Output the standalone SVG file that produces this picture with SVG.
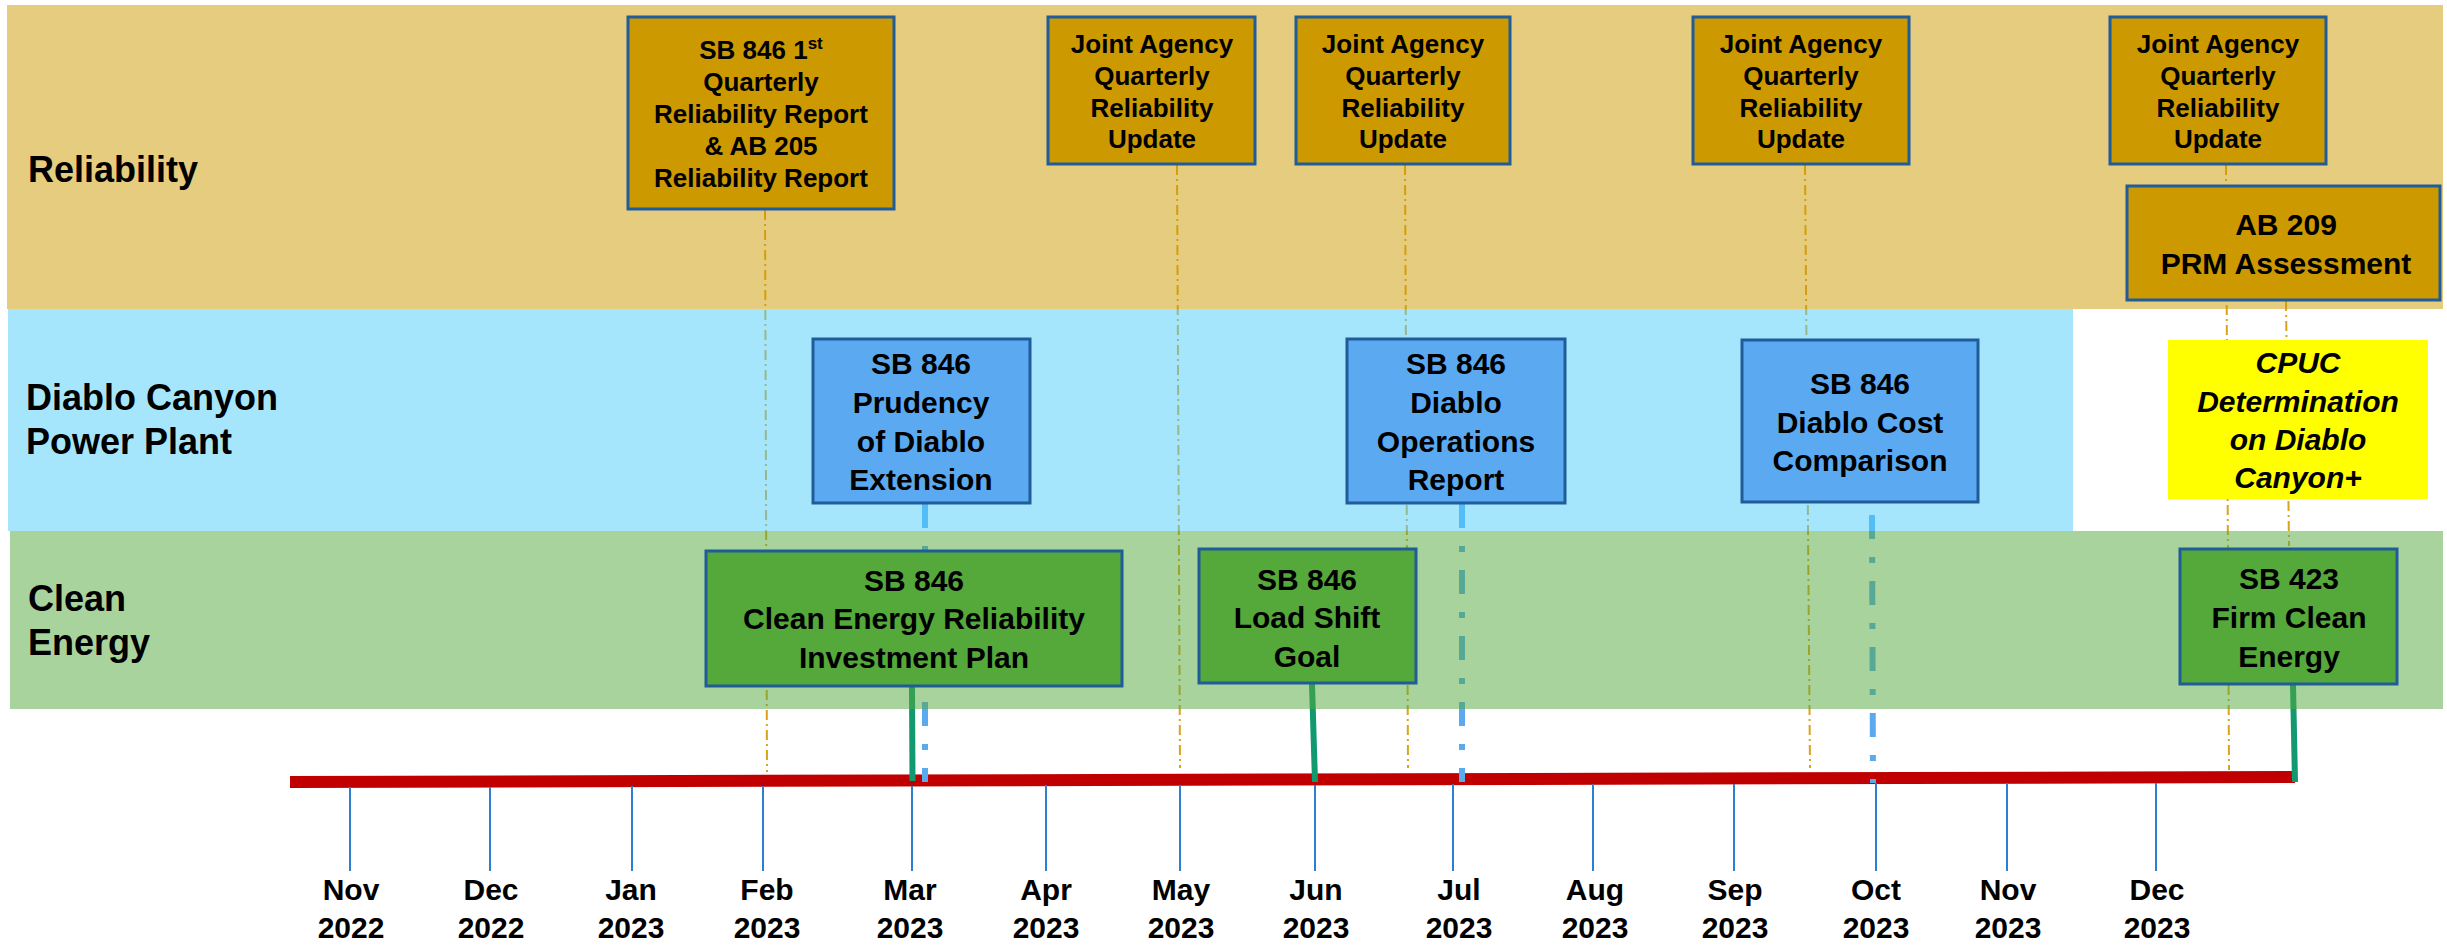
<svg xmlns="http://www.w3.org/2000/svg" width="2447" height="945" viewBox="0 0 2447 945">
<defs>
<style>
text{font-family:"Liberation Sans",Arial,sans-serif;font-weight:bold;fill:#000;}
.lane{font-size:36px;}
.r{font-size:26px;text-anchor:middle;}
.b{font-size:30px;text-anchor:middle;}
.i{font-size:30px;text-anchor:middle;font-style:italic;}
.m{font-size:30px;text-anchor:middle;}
.boxR{fill:#CC9900;stroke:#1F5C99;stroke-width:3;}
.boxB{fill:#5BAAF1;stroke:#1F5C99;stroke-width:3;}
.boxG{fill:#55A83A;stroke:#1F5C99;stroke-width:3;}
.gold{stroke:#DBA31A;stroke-width:2;stroke-dasharray:10 4 2 4;fill:none;}
.blue{stroke:#5BAAF0;stroke-width:6;stroke-dasharray:24 18 6 18;fill:none;}
.grn{stroke:#13996F;stroke-width:6;fill:none;}
.tick{stroke:#2F7FD0;stroke-width:2;}
</style>
</defs>
<rect width="2447" height="945" fill="#FFFFFF"/>

<g id="timeline">
<line x1="290" y1="782" x2="2295" y2="777" stroke="#C00000" stroke-width="12"/>
<g class="tick">
<line x1="350" y1="787" x2="350" y2="871"/>
<line x1="490" y1="787" x2="490" y2="871"/>
<line x1="632" y1="786" x2="632" y2="871"/>
<line x1="763" y1="786" x2="763" y2="871"/>
<line x1="912" y1="786" x2="912" y2="871"/>
<line x1="1046" y1="785" x2="1046" y2="871"/>
<line x1="1180" y1="785" x2="1180" y2="871"/>
<line x1="1315" y1="785" x2="1315" y2="871"/>
<line x1="1453" y1="784" x2="1453" y2="871"/>
<line x1="1593" y1="784" x2="1593" y2="871"/>
<line x1="1734" y1="784" x2="1734" y2="871"/>
<line x1="1876" y1="783" x2="1876" y2="871"/>
<line x1="2007" y1="783" x2="2007" y2="871"/>
<line x1="2156" y1="783" x2="2156" y2="871"/>
</g>
<g class="months">
<text class="m" x="351" y="900">Nov</text><text class="m" x="351" y="938">2022</text>
<text class="m" x="491" y="900">Dec</text><text class="m" x="491" y="938">2022</text>
<text class="m" x="631" y="900">Jan</text><text class="m" x="631" y="938">2023</text>
<text class="m" x="767" y="900">Feb</text><text class="m" x="767" y="938">2023</text>
<text class="m" x="910" y="900">Mar</text><text class="m" x="910" y="938">2023</text>
<text class="m" x="1046" y="900">Apr</text><text class="m" x="1046" y="938">2023</text>
<text class="m" x="1181" y="900">May</text><text class="m" x="1181" y="938">2023</text>
<text class="m" x="1316" y="900">Jun</text><text class="m" x="1316" y="938">2023</text>
<text class="m" x="1459" y="900">Jul</text><text class="m" x="1459" y="938">2023</text>
<text class="m" x="1595" y="900">Aug</text><text class="m" x="1595" y="938">2023</text>
<text class="m" x="1735" y="900">Sep</text><text class="m" x="1735" y="938">2023</text>
<text class="m" x="1876" y="900">Oct</text><text class="m" x="1876" y="938">2023</text>
<text class="m" x="2008" y="900">Nov</text><text class="m" x="2008" y="938">2023</text>
<text class="m" x="2157" y="900">Dec</text><text class="m" x="2157" y="938">2023</text>
</g>
</g>

<g id="connectors">
<line class="gold" x1="765" y1="210" x2="767" y2="772"/>
<line class="gold" x1="1177" y1="165" x2="1180" y2="768"/>
<line class="gold" x1="1405" y1="165" x2="1408" y2="768"/>
<line class="gold" x1="1805" y1="165" x2="1810" y2="768"/>
<line class="gold" x1="2226" y1="165" x2="2229" y2="770"/>
<line class="gold" x1="2286" y1="301" x2="2289" y2="546"/>
<line class="blue" x1="925" y1="504" x2="925" y2="782"/>
<line class="blue" x1="1462" y1="504" x2="1462" y2="782"/>
<line class="blue" x1="1872" y1="515" x2="1873" y2="783"/>
<line class="grn" x1="912" y1="687" x2="912.5" y2="781"/>
<line class="grn" x1="1312" y1="684" x2="1315" y2="782"/>
<line class="grn" x1="2293" y1="684" x2="2295" y2="782"/>
</g>

<g id="lanes">
<rect id="lane-reliability" x="7" y="5" width="2436" height="304" fill="#CC9900" fill-opacity="0.5"/>
<rect id="lane-diablo" x="8" y="309" width="2065" height="222" fill="#4DCDFB" fill-opacity="0.5"/>
<rect id="lane-clean" x="10" y="531" width="2433" height="178" fill="#53A83A" fill-opacity="0.5"/>
<text class="lane" x="28" y="182">Reliability</text>
<text class="lane" x="26" y="410">Diablo Canyon</text>
<text class="lane" x="26" y="454">Power Plant</text>
<text class="lane" x="28" y="611">Clean</text>
<text class="lane" x="28" y="655">Energy</text>
</g>

<g id="sb846-q1">
<rect class="boxR" x="628" y="17" width="266" height="192"/>
<text class="r" x="761" y="59">SB 846 1<tspan font-size="17" dy="-10">st</tspan></text>
<text class="r" x="761" y="91">Quarterly</text>
<text class="r" x="761" y="123">Reliability Report</text>
<text class="r" x="761" y="155">&amp; AB 205</text>
<text class="r" x="761" y="187">Reliability Report</text>
</g>

<g id="ja-1">
<rect class="boxR" x="1048" y="17" width="207" height="147"/>
<text class="r" x="1152" y="53">Joint Agency</text>
<text class="r" x="1152" y="85">Quarterly</text>
<text class="r" x="1152" y="117">Reliability</text>
<text class="r" x="1152" y="148">Update</text>
</g>

<g id="ja-2">
<rect class="boxR" x="1296" y="17" width="214" height="147"/>
<text class="r" x="1403" y="53">Joint Agency</text>
<text class="r" x="1403" y="85">Quarterly</text>
<text class="r" x="1403" y="117">Reliability</text>
<text class="r" x="1403" y="148">Update</text>
</g>

<g id="ja-3">
<rect class="boxR" x="1693" y="17" width="216" height="147"/>
<text class="r" x="1801" y="53">Joint Agency</text>
<text class="r" x="1801" y="85">Quarterly</text>
<text class="r" x="1801" y="117">Reliability</text>
<text class="r" x="1801" y="148">Update</text>
</g>

<g id="ja-4">
<rect class="boxR" x="2110" y="17" width="216" height="147"/>
<text class="r" x="2218" y="53">Joint Agency</text>
<text class="r" x="2218" y="85">Quarterly</text>
<text class="r" x="2218" y="117">Reliability</text>
<text class="r" x="2218" y="148">Update</text>
</g>

<g id="ab209">
<rect class="boxR" x="2127" y="186" width="313" height="114"/>
<text class="b" x="2286" y="235">AB 209</text>
<text class="b" x="2286" y="274">PRM Assessment</text>
</g>

<g id="prudency">
<rect class="boxB" x="813" y="339" width="217" height="164"/>
<text class="b" x="921" y="374">SB 846</text>
<text class="b" x="921" y="413">Prudency</text>
<text class="b" x="921" y="452">of Diablo</text>
<text class="b" x="921" y="490">Extension</text>
</g>

<g id="diablo-ops">
<rect class="boxB" x="1347" y="339" width="218" height="164"/>
<text class="b" x="1456" y="374">SB 846</text>
<text class="b" x="1456" y="413">Diablo</text>
<text class="b" x="1456" y="452">Operations</text>
<text class="b" x="1456" y="490">Report</text>
</g>

<g id="diablo-cost">
<rect class="boxB" x="1742" y="340" width="236" height="162"/>
<text class="b" x="1860" y="394">SB 846</text>
<text class="b" x="1860" y="433">Diablo Cost</text>
<text class="b" x="1860" y="471">Comparison</text>
</g>

<g id="cpuc">
<rect x="2168" y="340" width="260" height="159" fill="#FFFF00"/>
<text class="i" x="2298" y="373">CPUC</text>
<text class="i" x="2298" y="412">Determination</text>
<text class="i" x="2298" y="450">on Diablo</text>
<text class="i" x="2298" y="488">Canyon+</text>
</g>

<g id="cerip">
<rect class="boxG" x="706" y="551" width="416" height="135"/>
<text class="b" x="914" y="591">SB 846</text>
<text class="b" x="914" y="629">Clean Energy Reliability</text>
<text class="b" x="914" y="668">Investment Plan</text>
</g>

<g id="load-shift">
<rect class="boxG" x="1199" y="549" width="217" height="134"/>
<text class="b" x="1307" y="590">SB 846</text>
<text class="b" x="1307" y="628">Load Shift</text>
<text class="b" x="1307" y="667">Goal</text>
</g>

<g id="sb423">
<rect class="boxG" x="2180" y="549" width="217" height="135"/>
<text class="b" x="2289" y="589">SB 423</text>
<text class="b" x="2289" y="628">Firm Clean</text>
<text class="b" x="2289" y="667">Energy</text>
</g>
</svg>
